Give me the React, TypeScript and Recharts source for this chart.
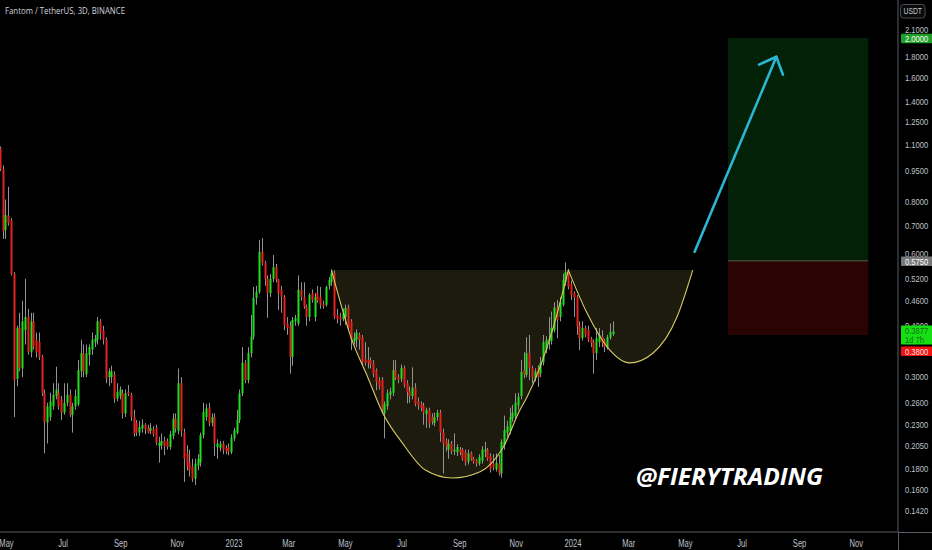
import React from "react";
import {
  ComposedChart,
  Bar,
  Area,
  Line,
  XAxis,
  YAxis,
  ReferenceArea,
  ReferenceLine,
} from "recharts";

// ---------- data ----------
const firstCandleDate = "2022-04-25";
const candleStepDays = 3;
// [open, high, low, close] of each 3D candle, oldest first
const ohlc: [number, number, number, number][] = [
  [1.08, 1.09, 0.95, 0.96], [0.96, 0.98, 0.65, 0.68], [0.683, 0.81, 0.65, 0.743], [0.74, 0.87, 0.7, 0.71], [0.72, 0.73, 0.53, 0.535],
  [0.535, 0.54, 0.24, 0.295], [0.297, 0.4, 0.285, 0.395], [0.395, 0.43, 0.31, 0.315], [0.315, 0.46, 0.3, 0.41], [0.39, 0.52, 0.36, 0.42],
  [0.42, 0.44, 0.34, 0.345], [0.345, 0.43, 0.335, 0.41], [0.41, 0.43, 0.35, 0.355], [0.37, 0.385, 0.335, 0.345], [0.365, 0.385, 0.33, 0.336],
  [0.336, 0.34, 0.27, 0.275], [0.274, 0.28, 0.196, 0.233], [0.233, 0.26, 0.207, 0.255], [0.24, 0.275, 0.235, 0.262], [0.255, 0.29, 0.25, 0.272],
  [0.27, 0.318, 0.265, 0.28], [0.275, 0.29, 0.25, 0.255], [0.265, 0.27, 0.236, 0.246], [0.246, 0.29, 0.243, 0.26], [0.26, 0.29, 0.255, 0.272],
  [0.272, 0.28, 0.24, 0.243], [0.243, 0.26, 0.22, 0.255], [0.255, 0.28, 0.25, 0.27], [0.258, 0.33, 0.255, 0.312], [0.31, 0.37, 0.3, 0.343],
  [0.343, 0.36, 0.3, 0.31], [0.305, 0.36, 0.3, 0.343], [0.34, 0.36, 0.32, 0.355], [0.35, 0.385, 0.34, 0.37], [0.365, 0.38, 0.355, 0.372],
  [0.37, 0.42, 0.36, 0.41], [0.41, 0.415, 0.37, 0.385], [0.39, 0.4, 0.36, 0.37], [0.37, 0.375, 0.29, 0.298], [0.3, 0.315, 0.285, 0.31],
  [0.3, 0.32, 0.29, 0.31], [0.305, 0.31, 0.26, 0.266], [0.266, 0.29, 0.262, 0.276], [0.27, 0.285, 0.265, 0.28], [0.275, 0.28, 0.238, 0.245],
  [0.245, 0.28, 0.24, 0.274], [0.276, 0.287, 0.27, 0.273], [0.272, 0.275, 0.235, 0.24], [0.24, 0.25, 0.215, 0.219], [0.232, 0.236, 0.216, 0.22],
  [0.22, 0.235, 0.216, 0.227], [0.225, 0.237, 0.22, 0.23], [0.23, 0.232, 0.218, 0.224], [0.226, 0.23, 0.219, 0.22], [0.222, 0.232, 0.218, 0.226],
  [0.224, 0.228, 0.215, 0.218], [0.226, 0.23, 0.205, 0.208], [0.204, 0.215, 0.186, 0.208], [0.205, 0.219, 0.2, 0.21], [0.21, 0.215, 0.194, 0.204],
  [0.21, 0.213, 0.2, 0.203], [0.203, 0.222, 0.2, 0.218], [0.216, 0.245, 0.212, 0.238], [0.238, 0.245, 0.22, 0.225], [0.222, 0.315, 0.218, 0.29],
  [0.29, 0.3, 0.215, 0.222], [0.22, 0.225, 0.167, 0.19], [0.196, 0.205, 0.178, 0.182], [0.186, 0.2, 0.172, 0.178], [0.182, 0.19, 0.167, 0.17],
  [0.17, 0.19, 0.164, 0.185], [0.183, 0.195, 0.178, 0.19], [0.186, 0.22, 0.182, 0.217], [0.217, 0.26, 0.213, 0.247], [0.24, 0.258, 0.235, 0.252],
  [0.253, 0.26, 0.228, 0.232], [0.232, 0.245, 0.228, 0.24], [0.24, 0.245, 0.193, 0.207], [0.203, 0.212, 0.19, 0.207], [0.202, 0.21, 0.198, 0.207],
  [0.207, 0.21, 0.195, 0.2], [0.202, 0.205, 0.195, 0.198], [0.203, 0.207, 0.194, 0.198], [0.197, 0.218, 0.195, 0.214], [0.213, 0.226, 0.21, 0.223],
  [0.22, 0.25, 0.218, 0.236], [0.236, 0.28, 0.232, 0.274], [0.274, 0.355, 0.27, 0.325], [0.325, 0.33, 0.29, 0.295], [0.295, 0.355, 0.29, 0.343],
  [0.343, 0.425, 0.335, 0.376], [0.376, 0.497, 0.37, 0.467], [0.467, 0.5, 0.45, 0.484], [0.484, 0.646, 0.478, 0.605], [0.605, 0.653, 0.56, 0.568],
  [0.568, 0.575, 0.5, 0.52], [0.52, 0.53, 0.418, 0.48], [0.48, 0.535, 0.47, 0.52], [0.52, 0.594, 0.51, 0.555], [0.555, 0.565, 0.51, 0.517],
  [0.517, 0.52, 0.437, 0.48], [0.49, 0.5, 0.43, 0.47], [0.47, 0.475, 0.39, 0.402], [0.405, 0.42, 0.38, 0.395], [0.4, 0.41, 0.306, 0.336],
  [0.336, 0.42, 0.32, 0.413], [0.41, 0.425, 0.4, 0.418], [0.405, 0.53, 0.4, 0.489], [0.489, 0.51, 0.46, 0.47], [0.47, 0.51, 0.44, 0.445],
  [0.445, 0.45, 0.4, 0.42], [0.42, 0.48, 0.41, 0.475], [0.48, 0.49, 0.455, 0.462], [0.42, 0.48, 0.41, 0.47], [0.48, 0.5, 0.455, 0.46],
  [0.47, 0.497, 0.44, 0.45], [0.452, 0.46, 0.44, 0.447], [0.45, 0.5, 0.445, 0.497], [0.5, 0.525, 0.49, 0.517], [0.51, 0.548, 0.5, 0.537],
  [0.537, 0.545, 0.415, 0.42], [0.425, 0.44, 0.405, 0.415], [0.42, 0.43, 0.4, 0.414], [0.415, 0.44, 0.41, 0.43], [0.42, 0.45, 0.402, 0.442],
  [0.443, 0.45, 0.39, 0.395], [0.41, 0.415, 0.349, 0.37], [0.366, 0.385, 0.36, 0.373], [0.37, 0.392, 0.355, 0.385], [0.38, 0.385, 0.35, 0.37],
  [0.375, 0.38, 0.32, 0.326], [0.332, 0.365, 0.32, 0.325], [0.33, 0.355, 0.315, 0.325], [0.33, 0.335, 0.315, 0.322], [0.325, 0.33, 0.3, 0.306],
  [0.312, 0.315, 0.279, 0.292], [0.295, 0.3, 0.28, 0.284], [0.296, 0.3, 0.245, 0.25], [0.245, 0.262, 0.213, 0.258], [0.255, 0.28, 0.25, 0.274],
  [0.272, 0.283, 0.265, 0.277], [0.275, 0.33, 0.27, 0.312], [0.312, 0.33, 0.295, 0.298], [0.3, 0.305, 0.29, 0.296], [0.297, 0.322, 0.292, 0.316],
  [0.316, 0.32, 0.283, 0.287], [0.29, 0.295, 0.259, 0.276], [0.277, 0.285, 0.26, 0.27], [0.27, 0.317, 0.265, 0.283], [0.283, 0.29, 0.255, 0.258],
  [0.262, 0.268, 0.25, 0.257], [0.258, 0.262, 0.248, 0.252], [0.256, 0.26, 0.23, 0.246], [0.244, 0.253, 0.226, 0.25], [0.25, 0.253, 0.226, 0.232],
  [0.24, 0.245, 0.23, 0.234], [0.232, 0.246, 0.228, 0.24], [0.24, 0.25, 0.235, 0.246], [0.246, 0.25, 0.209, 0.22], [0.22, 0.225, 0.175, 0.207],
  [0.21, 0.213, 0.198, 0.203], [0.2, 0.212, 0.19, 0.207], [0.207, 0.21, 0.195, 0.198], [0.198, 0.219, 0.194, 0.2], [0.197, 0.206, 0.193, 0.203],
  [0.2, 0.203, 0.194, 0.197], [0.2, 0.202, 0.188, 0.19], [0.197, 0.2, 0.183, 0.186], [0.187, 0.2, 0.184, 0.196], [0.196, 0.198, 0.188, 0.19],
  [0.19, 0.192, 0.185, 0.187], [0.188, 0.19, 0.182, 0.185], [0.185, 0.195, 0.183, 0.192], [0.188, 0.204, 0.185, 0.2], [0.198, 0.209, 0.192, 0.2],
  [0.2, 0.202, 0.188, 0.19], [0.193, 0.196, 0.176, 0.179], [0.185, 0.195, 0.178, 0.181], [0.179, 0.196, 0.177, 0.186], [0.185, 0.194, 0.173, 0.175],
  [0.175, 0.212, 0.171, 0.209], [0.205, 0.242, 0.2, 0.223], [0.22, 0.235, 0.215, 0.228], [0.222, 0.253, 0.218, 0.24], [0.238, 0.257, 0.234, 0.246],
  [0.242, 0.274, 0.238, 0.26], [0.256, 0.275, 0.25, 0.269], [0.27, 0.33, 0.265, 0.309], [0.312, 0.345, 0.298, 0.304], [0.304, 0.375, 0.3, 0.343],
  [0.343, 0.38, 0.295, 0.316], [0.316, 0.32, 0.29, 0.3], [0.298, 0.315, 0.293, 0.31], [0.314, 0.321, 0.284, 0.3], [0.306, 0.336, 0.3, 0.325],
  [0.326, 0.38, 0.32, 0.365], [0.35, 0.377, 0.343, 0.369], [0.368, 0.42, 0.35, 0.372], [0.367, 0.433, 0.36, 0.395], [0.39, 0.456, 0.385, 0.443],
  [0.443, 0.462, 0.373, 0.413], [0.42, 0.47, 0.41, 0.456], [0.45, 0.535, 0.445, 0.517], [0.51, 0.57, 0.5, 0.54], [0.54, 0.55, 0.49, 0.497],
  [0.505, 0.515, 0.462, 0.475], [0.48, 0.485, 0.42, 0.468], [0.47, 0.475, 0.38, 0.398], [0.4, 0.41, 0.349, 0.373], [0.373, 0.41, 0.368, 0.395],
  [0.395, 0.4, 0.375, 0.38], [0.39, 0.4, 0.365, 0.37], [0.372, 0.376, 0.355, 0.363], [0.365, 0.37, 0.306, 0.343], [0.343, 0.395, 0.33, 0.373],
  [0.365, 0.395, 0.355, 0.38], [0.376, 0.39, 0.355, 0.363], [0.368, 0.372, 0.345, 0.355], [0.354, 0.38, 0.35, 0.375], [0.374, 0.405, 0.37, 0.386],
  [0.382, 0.41, 0.378, 0.3877],
];

const viewStartDate = "2022-04-24";
const viewEndDate = "2024-12-16";
const priceMin = 0.1262;
const priceMax = 2.473;

const monthTickDates = [
  "2022-05-01", "2022-07-01", "2022-09-01", "2022-11-01", "2023-01-01", "2023-03-01", "2023-05-01", "2023-07-01",
  "2023-09-01", "2023-11-01", "2024-01-01", "2024-03-01", "2024-05-01", "2024-07-01", "2024-09-01", "2024-11-01",
];
const monthTickLabels = ["May", "Jul", "Sep", "Nov", "2023", "Mar", "May", "Jul", "Sep", "Nov", "2024", "Mar", "May", "Jul", "Sep", "Nov"];
const priceTicks = [2.1, 1.8, 1.6, 1.4, 1.25, 1.1, 0.95, 0.8, 0.7, 0.6, 0.52, 0.46, 0.4, 0.3, 0.26, 0.23, 0.205, 0.18, 0.16, 0.142];

// cup & handle drawing
const cupRim = 0.546;
const cupDates = ["2023-04-16", "2023-05-08", "2023-05-25", "2023-06-10", "2023-07-01", "2023-07-26", "2023-08-24", "2023-09-23", "2023-10-18", "2023-11-05", "2023-11-12", "2023-12-10", "2023-12-27"];
const cupPrices = [0.546, 0.369, 0.3, 0.246, 0.208, 0.1785, 0.1707, 0.1768, 0.203, 0.25, 0.267, 0.391, 0.546];
const handleDates = ["2023-12-27", "2024-01-16", "2024-02-07", "2024-03-02", "2024-03-27", "2024-04-22", "2024-05-09"];
const handlePrices = [0.546, 0.43, 0.355, 0.325, 0.343, 0.42, 0.546];

// long position box
const positionStartDate = "2024-06-16";
const positionEndDate = "2024-11-14";
const targetPrice = 2.0;
const entryPrice = 0.575;
const stopPrice = 0.38;
const lastPrice = 0.3877;
const lastCountdown = "1d 7h";

// price tags on the scale (drawn after the plain ticks, so on top of them)
const tagPrices = [targetPrice, entryPrice, lastPrice, stopPrice];
const tagSubs = ["", "", lastCountdown, ""];
const tagBg = ["#1f9e28", "#777777", "#14e014", "#f01010"];
const tagFg = ["#ffffff", "#ffffff", "#1a6e1a", "#ffe4e4"];
const tagShift = [0.5, 0.5, -1, 16.5];

// arrow
const arrowFromDate = "2024-05-11";
const arrowFromPrice = 0.605;
const arrowToDate = "2024-08-07";
const arrowToPrice = 1.8;

// ---------- helpers ----------
const DAY = 86400000;
const dayIndex = (d: string) => Math.round((Date.parse(d) - Date.parse(firstCandleDate)) / DAY);

const candles = ohlc.map(([open, high, low, close], i) => ({
  t: i * candleStepDays,
  open,
  high,
  low,
  close,
  range: [low, high],
}));
const cupData = cupDates.map((d, i) => ({ t: dayIndex(d), curve: cupPrices[i], band: [cupPrices[i], cupRim] }));
const handleData = handleDates.map((d, i) => ({ t: dayIndex(d), curve: handlePrices[i], band: [handlePrices[i], cupRim] }));
const monthTicks = monthTickDates.map(dayIndex);
const axisTicks = [...priceTicks, ...tagPrices];

const UP = "#22dd22";
const DOWN = "#e3231c";
const WICK = "#929292";
const AXIS = "#5a5d66";
const TEXT = "#bfc2ca";
const FONT = "Liberation Sans, Arial, sans-serif";
const TICK_SIZE = 9.3;
const TICK_SCALE = 0.82;

const Candle = (props: any) => {
  const { x, y, width, height } = props;
  const d = props.payload ?? props;
  if (x == null || y == null || !d) return null;
  const top = Math.min(y, y + height);
  const h = Math.abs(height);
  const lh = Math.log(d.high);
  const ll = Math.log(d.low);
  const py = (v: number) => (lh === ll ? top : top + ((lh - Math.log(v)) / (lh - ll)) * h);
  const c = Math.round(x + width / 2);
  const bTop = py(Math.max(d.open, d.close));
  const bBot = py(Math.min(d.open, d.close));
  return (
    <g>
      <line x1={c - 0.5} x2={c - 0.5} y1={top} y2={top + h} stroke={WICK} strokeWidth={1} />
      <rect x={c - 1.5} y={bTop} width={2} height={Math.max(1, bBot - bTop)} fill={d.close >= d.open ? UP : DOWN} />
    </g>
  );
};

const PriceTick = (props: any) => {
  const { x, y, payload } = props;
  const i = tagPrices.indexOf(payload.value);
  if (i < 0) {
    return (
      <text transform={`translate(${x + 5},${y + 3.3}) scale(${TICK_SCALE},1)`} fontSize={TICK_SIZE} fontFamily={FONT} fill={TEXT}>
        {Number(payload.value).toFixed(4)}
      </text>
    );
  }
  const yy = y + tagShift[i];
  const sub = tagSubs[i];
  const h = sub ? 19 : 9.5;
  return (
    <g>
      <rect x={x + 1} y={yy - 4.8} width={33} height={h} fill={tagBg[i]} rx={1} />
      <text transform={`translate(${x + 5},${yy + 3.3}) scale(${TICK_SCALE},1)`} fontSize={TICK_SIZE} fontFamily={FONT} fill={tagFg[i]}>
        {Number(payload.value).toFixed(4)}
      </text>
      {sub ? (
        <text transform={`translate(${x + 5},${yy + 12.6}) scale(${TICK_SCALE},1)`} fontSize={TICK_SIZE} fontFamily={FONT} fill={tagFg[i]}>
          {sub}
        </text>
      ) : null}
    </g>
  );
};

const MonthTick = (props: any) => {
  const { x, y, payload } = props;
  const idx = monthTicks.indexOf(payload.value);
  return (
    <text transform={`translate(${x},${y + 12.8}) scale(0.76,1)`} textAnchor="middle" fontSize={10} fontFamily={FONT} fill={TEXT}>
      {idx >= 0 ? monthTickLabels[idx] : ""}
    </text>
  );
};

const Arrow = (props: any) => {
  const { x1, y1, x2, y2 } = props;
  if (x1 == null) return null;
  const ang = Math.atan2(y2 - y1, x2 - x1) + Math.PI;
  const a = (43 * Math.PI) / 180;
  const L = 19;
  const p1 = `${x2 + L * Math.cos(ang - a)},${y2 + L * Math.sin(ang - a)}`;
  const p2 = `${x2 + L * Math.cos(ang + a)},${y2 + L * Math.sin(ang + a)}`;
  return (
    <g stroke="#2bb6d6" strokeWidth={2.6} fill="none" strokeLinecap="round" strokeLinejoin="round">
      <line x1={x1} y1={y1} x2={x2} y2={y2} />
      <polyline points={`${p1} ${x2},${y2} ${p2}`} />
    </g>
  );
};

export default function App() {
  return (
    <div style={{ position: "fixed", left: 0, top: 0, width: 932, height: 550, background: "#000", overflow: "hidden" }}>
      <ComposedChart width={932} height={550} data={candles} margin={{ top: 0, right: 0, bottom: 0, left: 0 }}>
        <XAxis
          dataKey="t"
          type="number"
          domain={[dayIndex(viewStartDate), dayIndex(viewEndDate)]}
          allowDataOverflow
          ticks={monthTicks}
          interval={0}
          tick={<MonthTick />}
          tickLine={false}
          tickSize={0}
          height={18}
          axisLine={{ stroke: AXIS }}
        />
        <YAxis
          orientation="right"
          scale="log"
          domain={[priceMin, priceMax]}
          allowDataOverflow
          ticks={axisTicks}
          interval={0}
          width={34}
          tick={<PriceTick />}
          tickLine={false}
          tickSize={0}
          axisLine={{ stroke: AXIS }}
        />
        <ReferenceArea
          x1={dayIndex(positionStartDate)}
          x2={dayIndex(positionEndDate)}
          y1={entryPrice}
          y2={targetPrice}
          fill="#032106"
          fillOpacity={1}
          stroke="none"
        />
        <ReferenceArea
          x1={dayIndex(positionStartDate)}
          x2={dayIndex(positionEndDate)}
          y1={stopPrice}
          y2={entryPrice}
          fill="#2a0303"
          fillOpacity={1}
          stroke="none"
        />
        <ReferenceLine
          segment={[
            { x: dayIndex(positionStartDate), y: entryPrice },
            { x: dayIndex(positionEndDate), y: entryPrice },
          ]}
          stroke="#56634c"
          strokeWidth={1}
        />
        <Area data={cupData} dataKey="band" type="monotone" stroke="none" fill="#1c1b0d" fillOpacity={1} dot={false} activeDot={false} isAnimationActive={false} />
        <Area data={handleData} dataKey="band" type="monotone" stroke="none" fill="#1c1b0d" fillOpacity={1} dot={false} activeDot={false} isAnimationActive={false} />
        <Bar dataKey="range" barSize={2} shape={(p: any) => <Candle {...p} />} isAnimationActive={false} />
        <Line data={cupData} dataKey="curve" type="monotone" stroke="#d8cc68" strokeWidth={1.1} dot={false} activeDot={false} isAnimationActive={false} />
        <Line data={handleData} dataKey="curve" type="monotone" stroke="#d8cc68" strokeWidth={1.1} dot={false} activeDot={false} isAnimationActive={false} />
        <ReferenceLine
          segment={[
            { x: dayIndex(arrowFromDate), y: arrowFromPrice },
            { x: dayIndex(arrowToDate), y: arrowToPrice },
          ]}
          ifOverflow="visible"
          shape={(p: any) => <Arrow {...p} />}
        />
      </ComposedChart>
      <svg width={932} height={550} style={{ position: "absolute", left: 0, top: 0, pointerEvents: "none" }}>
        <text x={5} y={14} fontSize={8.6} fontFamily="Open Sans, Noto Sans, sans-serif" fill="#d1d4dc" textLength={120} lengthAdjust="spacingAndGlyphs">
          Fantom / TetherUS, 3D, BINANCE
        </text>
        <rect x={900.5} y={4.5} width={24.5} height={13.5} rx={3} fill="#0a0a0a" stroke="#4a4d55" />
        <text transform="translate(912.75,14) scale(0.8,1)" textAnchor="middle" fontSize={8.5} fontFamily={FONT} fill="#c8cad0">
          USDT
        </text>
        <line x1={898.5} y1={532} x2={898.5} y2={550} stroke={AXIS} />
        <line x1={898} y1={532.5} x2={932} y2={532.5} stroke={AXIS} />
        <text
          x={636}
          y={485}
          fontSize={23.5}
          fontWeight={700}
          fontStyle="italic"
          fontFamily="Open Sans, Noto Sans, sans-serif"
          fill="#ffffff"
          textLength={187}
          lengthAdjust="spacingAndGlyphs"
        >
          @FIERYTRADING
        </text>
      </svg>
    </div>
  );
}
